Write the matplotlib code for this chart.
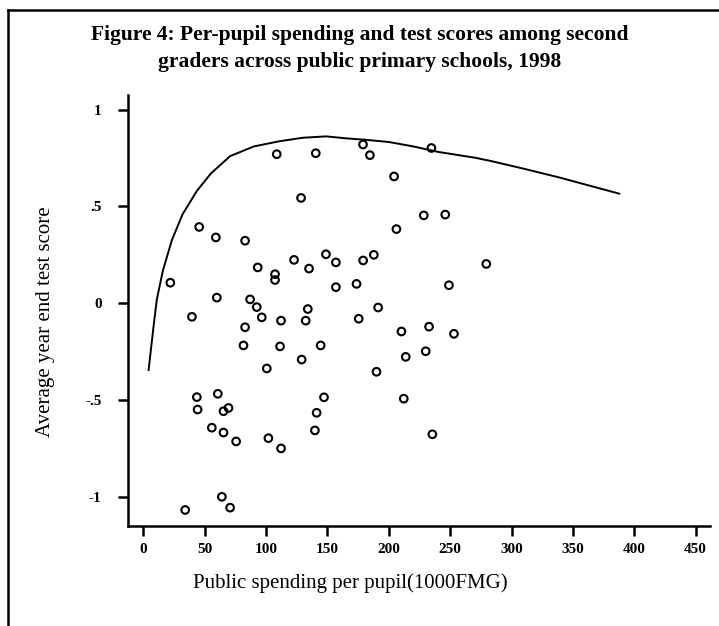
import matplotlib
matplotlib.use("Agg")
import matplotlib.pyplot as plt
from matplotlib.lines import Line2D

spending = [108.7, 140.5, 128.5, 45.5, 59.1, 82.9, 22.0, 93.2, 107.3, 107.3,
            122.8, 135.0, 59.9, 87.0, 92.4, 39.6, 134.0, 179.0, 184.6, 234.7,
            204.3, 228.5, 246.0, 206.2, 148.8, 156.9, 179.1, 187.8, 279.4, 156.9,
            173.7, 249.0, 191.3, 175.5, 96.5, 112.2, 132.3, 82.9, 81.6, 111.4,
            129.0, 144.5, 100.6, 60.7, 43.6, 44.2, 65.3, 69.4, 55.8, 65.3,
            75.6, 101.9, 112.2, 141.2, 139.8, 210.3, 232.8, 253.1, 213.8, 230.1,
            190.0, 147.2, 212.2, 235.5, 34.1, 64.0, 70.7]
score = [0.77, 0.775, 0.544, 0.394, 0.34, 0.323, 0.106, 0.185, 0.15, 0.12,
         0.224, 0.179, 0.029, 0.02, -0.02, -0.07, -0.03, 0.82, 0.765, 0.802,
         0.655, 0.454, 0.458, 0.383, 0.253, 0.211, 0.221, 0.25, 0.203, 0.083,
         0.10, 0.093, -0.022, -0.08, -0.073, -0.09, -0.09, -0.124, -0.218, -0.223,
         -0.291, -0.218, -0.337, -0.468, -0.485, -0.549, -0.558, -0.541, -0.643, -0.668,
         -0.714, -0.697, -0.75, -0.566, -0.657, -0.146, -0.121, -0.158, -0.277, -0.248,
         -0.354, -0.486, -0.493, -0.677, -1.068, -1.0, -1.056]

# fitted curve, traced
fit_x = [4.3, 8.4, 11, 16, 23.3, 32, 43.6, 55, 70.7, 90, 111, 130, 149,
         165, 180, 200, 220, 240, 253, 270, 283, 310, 340, 365, 387.8]
fit_y = [-0.345, -0.116, 0.02, 0.17, 0.327, 0.46, 0.58, 0.67, 0.76, 0.81, 0.837,
         0.855, 0.862, 0.852, 0.845, 0.833, 0.81, 0.782, 0.769, 0.752, 0.735,
         0.695, 0.648, 0.605, 0.566]

xticks = [0, 50, 100, 150, 200, 250, 300, 350, 400, 450]
yticks = [-1, -0.5, 0, 0.5, 1]
ytick_labels = ['-1', '-.5', '0', '.5', '1']

fig = plt.figure(figsize=(7.19, 6.26), dpi=100)
ax = fig.add_axes([0.178, 0.16, 0.81, 0.688])

ax.plot(fit_x, fit_y, color='black', lw=1.4)
ax.scatter(spending, score, s=30, facecolors='none', edgecolors='black', linewidths=1.5, zorder=3)

ax.set_xlim(-12.5, 462)
ax.set_ylim(-1.15, 1.075)
ax.set_xticks(xticks)
ax.set_xticklabels([str(t) for t in xticks])
ax.set_yticks(yticks)
ax.set_yticklabels(ytick_labels)
ax.tick_params(direction='out', length=7, width=1.8, labelsize=11)
ax.tick_params(axis='y', pad=12)
ax.tick_params(axis='x', pad=5)
for lab in ax.get_xticklabels() + ax.get_yticklabels():
    lab.set_fontfamily('Liberation Serif')
    lab.set_fontweight('bold')

for s in ['top', 'right']:
    ax.spines[s].set_visible(False)
for s in ['left', 'bottom']:
    ax.spines[s].set_linewidth(1.8)

fig.text(0.5, 0.944, 'Figure 4: Per-pupil spending and test scores among second',
         ha='center', va='center', fontsize=15.5, fontweight='bold', family='Liberation Serif')
fig.text(0.5, 0.901, 'graders across public primary schools, 1998',
         ha='center', va='center', fontsize=15.5, fontweight='bold', family='Liberation Serif')
fig.text(0.063, 0.486, 'Average year end test score', rotation=90, ha='center', va='center',
         fontsize=15, family='Liberation Serif')
fig.text(0.487, 0.068, 'Public spending per pupil(1000FMG)', ha='center', va='center',
         fontsize=15, family='Liberation Serif')

# frame around the figure (left and top edges visible)
fig.add_artist(Line2D([8 / 719, 8 / 719], [0, 1 - 10 / 626], color='black', lw=1.8))
fig.add_artist(Line2D([8 / 719, 1], [1 - 10 / 626, 1 - 10 / 626], color='black', lw=1.8))

fig.savefig('out.png', dpi=100)
